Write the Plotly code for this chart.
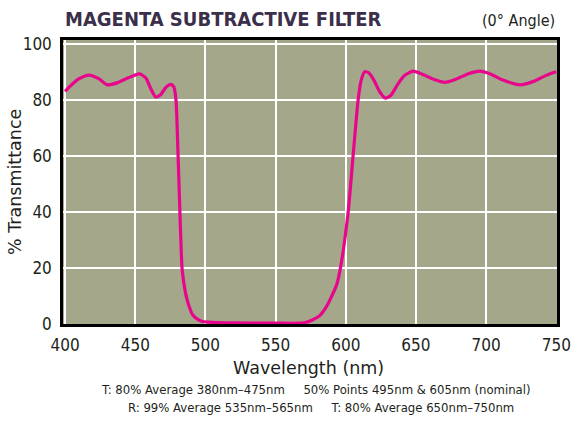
import plotly.graph_objects as go

# Transmission curve of the magenta subtractive filter (0° incidence)
wavelength_nm = [
    400, 405, 410, 417, 424, 430, 437, 445, 453, 457.5, 461, 464.5, 468, 472,
    475.5, 477.5, 479, 480.5, 481.8, 483.3, 484.5, 486.5, 488.6, 491, 494, 498,
    505, 520, 550, 570, 576.5, 581, 586, 590.9, 593.5, 596.2, 601.7, 605.2,
    608.8, 611, 613.5, 616.5, 620, 624, 628, 632, 637, 642, 648, 655, 663,
    670.7, 678, 687, 695.7, 703, 712, 724.3, 735, 742, 748, 750,
]
transmittance_pct = [
    83.0, 85.5, 87.5, 88.8, 87.5, 85.3, 86.0, 87.8, 89.2, 87.8, 84.0, 81.0, 81.8, 84.5,
    85.5, 84.5, 80.0, 60.0, 40.0, 20.0, 15.0, 9.5, 6.0, 3.2, 1.8, 0.9,
    0.6, 0.4, 0.3, 0.4, 1.5, 2.8, 6.0, 10.9, 14.0, 20.0, 40.0, 60.0,
    80.0, 87.0, 90.0, 89.5, 87.0, 83.0, 80.6, 81.5, 85.5, 88.7, 90.2, 89.0, 87.2,
    86.2, 87.2, 89.2, 90.2, 89.2, 87.0, 85.3, 86.8, 88.5, 89.7, 90.0,
]

x_ticks = [400, 450, 500, 550, 600, 650, 700, 750]
y_ticks = [0, 20, 40, 60, 80, 100]

title_text = "MAGENTA SUBTRACTIVE FILTER"
angle_text = "(0° Angle)"
x_title = "Wavelength (nm)"
y_title = "% Transmittance"
notes_line1 = "T: 80% Average 380nm–475nm     50% Points 495nm & 605nm (nominal)"
notes_line2 = "R: 99% Average 535nm–565nm     T: 80% Average 650nm–750nm"

W, H = 572, 421
ML, MR, MT, MB = 63, 15, 40, 97
plot_w = W - ML - MR
plot_h = H - MT - MB


def px(pixel_x):
    """Convert a page pixel column into paper x."""
    return (pixel_x - ML) / plot_w


def py(pixel_y):
    """Convert a page pixel row into paper y."""
    return (H - MB - pixel_y) / plot_h


narrow = "DejaVu Sans Condensed, Liberation Sans Narrow, sans-serif"
wide = "DejaVu Sans, Verdana, sans-serif"
text_col = "#231f20"

fig = go.Figure()
fig.add_trace(go.Scatter(
    x=wavelength_nm, y=transmittance_pct, mode="lines",
    line=dict(color="#E8058C", width=3.2, shape="spline", smoothing=0.6),
    hoverinfo="skip", showlegend=False,
))

axis_common = dict(
    showgrid=True, gridcolor="white", gridwidth=2,
    showline=True, linecolor="black", linewidth=2.5, mirror=True,
    ticks="", zeroline=False, automargin=False,
    tickfont=dict(family=narrow, size=17, color=text_col),
)

fig.update_layout(
    width=W, height=H,
    margin=dict(l=ML, r=MR, t=MT, b=MB),
    paper_bgcolor="white",
    plot_bgcolor="#A4A78A",
    xaxis=dict(range=[398.5, 750.5], tickvals=x_ticks,
               ticktext=[str(v) for v in x_ticks], ticklabelstandoff=4, **axis_common),
    yaxis=dict(range=[0, 101.3], tickvals=y_ticks,
               ticktext=[str(v) for v in y_ticks], ticklabelstandoff=5, **axis_common),
    annotations=[
        dict(text=f"<b>{title_text}</b>", xref="paper", yref="paper",
             x=0.0, y=py(19), xanchor="left", yanchor="middle", showarrow=False,
             font=dict(family=narrow, size=20, color="#3b2f4a")),
        dict(text=angle_text, xref="paper", yref="paper",
             x=1.0, y=py(21), xanchor="right", yanchor="middle", showarrow=False,
             font=dict(family=narrow, size=16, color=text_col)),
        dict(text=x_title, xref="paper", yref="paper",
             x=px(308), y=py(368), xanchor="center", yanchor="middle", showarrow=False,
             font=dict(family=wide, size=17.5, color=text_col)),
        dict(text=y_title, xref="paper", yref="paper", textangle=-90,
             x=px(15), y=py(182), xanchor="center", yanchor="middle", showarrow=False,
             font=dict(family=wide, size=17.5, color=text_col)),
        dict(text=notes_line1, xref="paper", yref="paper",
             x=px(316), y=py(389), xanchor="center", yanchor="middle",
             showarrow=False, font=dict(family=narrow, size=13, color=text_col)),
        dict(text=notes_line2, xref="paper", yref="paper",
             x=px(321), y=py(407), xanchor="center", yanchor="middle",
             showarrow=False, font=dict(family=narrow, size=13, color=text_col)),
    ],
)

fig.write_html("out.html")
